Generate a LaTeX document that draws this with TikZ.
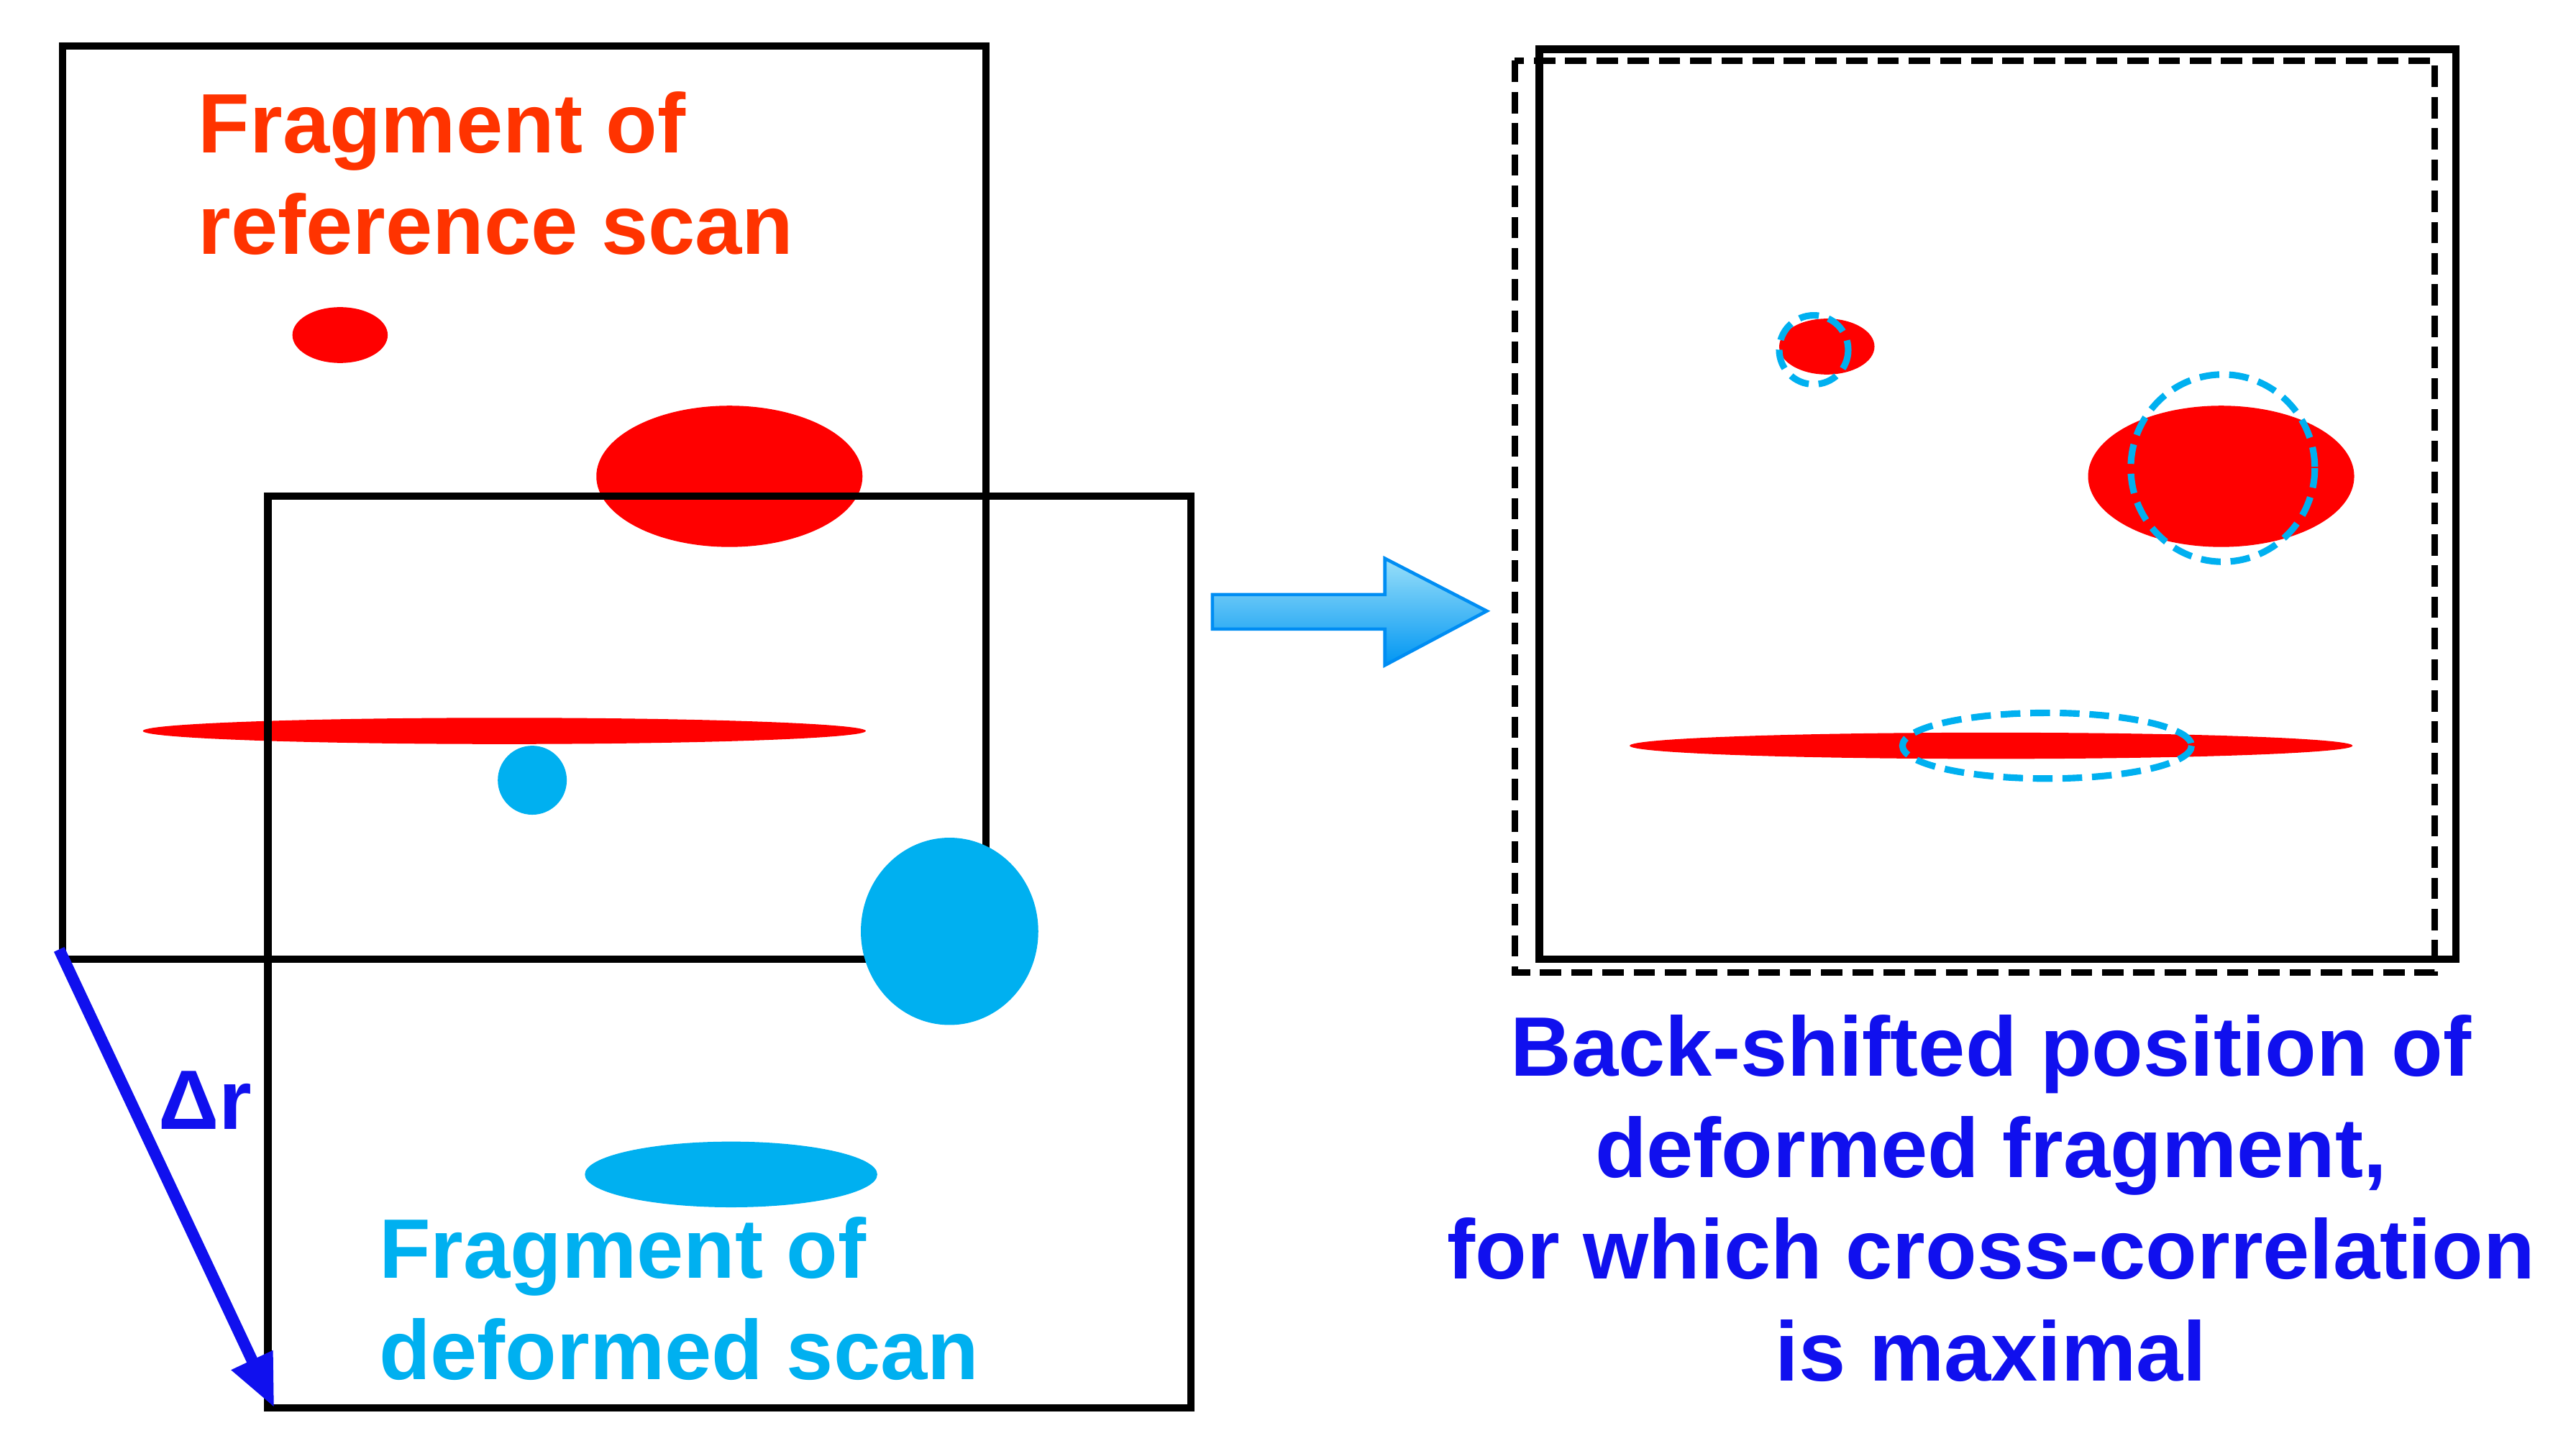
\documentclass[tikz,border=0pt]{standalone}
\usepackage{fontspec}
\setmainfont{Liberation Sans}
\usetikzlibrary{arrows.meta}
\definecolor{tred}{HTML}{FF3300}
\definecolor{fred}{HTML}{FF0000}
\definecolor{fcyan}{HTML}{00B0F0}
\definecolor{fblue}{HTML}{1010EE}
\tikzset{
  box/.style={draw=black,line width=0.45mm},
  rblob/.style={fill=fred,draw=none},
  cblob/.style={fill=fcyan,draw=none},
  cdash/.style={draw=fcyan,line width=0.4mm,dash pattern=on 1.2mm off 0.6mm},
  lbl/.style={font=\bfseries\fontsize{14.6}{17.6}\selectfont,inner sep=0pt,align=left,anchor=north west},
}
\begin{document}
\begin{tikzpicture}[x=0.01cm,y=-0.01cm]
\useasboundingbox (0,0) rectangle (1568,880);
% left
\fill[rblob] (207,204) ellipse [x radius=29,y radius=17];
\fill[rblob] (444,290) ellipse [x radius=81,y radius=43];
\fill[rblob] (307,445) ellipse [x radius=220,y radius=8];
\draw[box] (38,28) rectangle (600,584);
\draw[box] (163,302) rectangle (725,857);
\fill[cblob] (324,475) circle [radius=21];
\fill[cblob] (578,567) ellipse [x radius=54,y radius=57];
\fill[cblob] (445,715) ellipse [x radius=89,y radius=20];
\node[lbl,text=tred] (t1) at (120,55) {Fragment of\\reference scan};
\node[lbl,text=fcyan] (t2) at (230,740) {Fragment of\\deformed scan};
\coordinate (a0) at (36,578);
\coordinate (a1) at (167,857);
\draw[fblue,line width=0.7mm,-{Triangle[length=3.2mm,width=2.6mm]}] (a0) -- (a1);
\node[lbl,text=fblue,anchor=center] (dr) at (125,670) {Δr};
% arrow
\shade[top color=fcyan!40!white,bottom color=fcyan!85!blue,draw=fcyan!80!blue,line width=0.2mm]
  (738,362) -- (843,362) -- (843,340) -- (905,372) -- (843,405) -- (843,383) -- (738,383) -- cycle;
% right
\draw[box] (937,30) rectangle (1495,584);
\draw[line width=0.4mm,dash pattern=on 1.3mm off 0.6mm] (922,37) rectangle (1482,592);
\fill[rblob] (1112,211) ellipse [x radius=29,y radius=17];
\fill[rblob] (1352,290) ellipse [x radius=81,y radius=43];
\fill[rblob] (1212,454) ellipse [x radius=220,y radius=8];
\draw[cdash] (1104,213) circle [radius=21];
\draw[cdash] (1353,285) ellipse [x radius=56,y radius=57];
\draw[cdash] (1246,454) ellipse [x radius=88,y radius=20];
\node[lbl,text=fblue,align=center,anchor=north] (t3) at (1212,617) {Back-shifted position of\\deformed fragment,\\for which cross-correlation\\is maximal};
\end{tikzpicture}
\end{document}
